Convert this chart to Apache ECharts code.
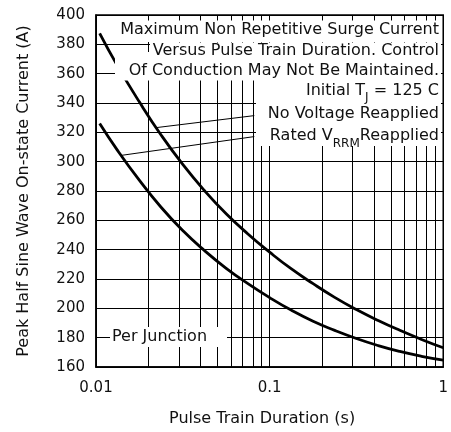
<!DOCTYPE html>
<html><head><meta charset="utf-8">
<script src="https://cdn.jsdelivr.net/npm/echarts@6/dist/echarts.min.js"></script>
<style>html,body{margin:0;padding:0;background:#fff}#c{width:451px;height:432px}</style>
</head><body><div id="c"></div>
<script>
// Data
const durNoVoltage = [0.0105, 0.0133, 0.0178, 0.0237, 0.0316, 0.0422, 0.0562, 0.075, 0.1, 0.133, 0.178, 0.237, 0.316, 0.422, 0.562, 0.75, 1.0];
const currNoVoltage = [387.5, 365.3, 340.6, 318.2, 298.1, 280.2, 264.5, 250.7, 238.3, 227.0, 216.8, 207.5, 199.2, 191.7, 185.0, 178.8, 173.1];
const durRated = [0.0105, 0.0133, 0.0178, 0.0237, 0.0316, 0.0422, 0.0562, 0.075, 0.1, 0.133, 0.178, 0.237, 0.316, 0.422, 0.562, 0.75, 1.0];
const currRated = [326, 307.7, 287.2, 268.9, 253.0, 239.3, 227.3, 216.8, 207.3, 198.8, 191.2, 185.0, 179.4, 174.6, 170.6, 167.3, 164.7];
const xMinorGrid = [0.02, 0.03, 0.04, 0.05, 0.06, 0.07, 0.08, 0.09, 0.2, 0.3, 0.4, 0.5, 0.6, 0.7, 0.8, 0.9];
const xTickLabels = {'0.01': '0.01', '0.1': '0.1', '1': '1'};
const leaderNoVoltage = [[0.0222, 323.2], [0.0816, 331.4]];
const leaderRated = [[0.0140, 304.3], [0.0816, 317.1]];
const yAxisTitle = 'Peak Half Sine Wave On-state Current (A)';
const xAxisTitle = 'Pulse Train Duration (s)';

const FONT = '"DejaVu Sans"';
const chart = echarts.init(document.getElementById('c'), null, {renderer: 'canvas'});

function txt(text, x, y, align, rich) {
  const style = {text: text, x: 0, y: 0, fill: '#111', font: '16px ' + FONT,
    fontSize: 16, fontFamily: FONT,
    align: align, textAlign: align, verticalAlign: 'middle', textVerticalAlign: 'middle'};
  if (rich) style.rich = rich;
  return {type: 'text', x: x, y: y, z: 60, silent: true, style: style};
}
function box(x, y, w, h) {
  return {type: 'rect', z: 55, silent: true, shape: {x: x, y: y, width: w, height: h}, style: {fill: '#fff'}};
}
const richSub = (lh) => ({
  n: {fontSize: 16, fontFamily: FONT, lineHeight: lh, verticalAlign: 'middle', color: '#111'},
  s: {fontSize: 12, fontFamily: FONT, verticalAlign: 'bottom', color: '#111'}
});

const option = {
  animation: false,
  grid: {left: 96, right: 4, top: 15, bottom: 64, show: true, borderColor: '#000', borderWidth: 1.5, backgroundColor: 'transparent'},
  xAxis: {
    type: 'log', logBase: 10, min: 0.01, max: 1,
    name: xAxisTitle, nameLocation: 'middle', nameGap: 44,
    nameTextStyle: {fontSize: 16, fontFamily: FONT, color: '#111', padding: [0, 15, 0, 0]},
    axisLine: {show: true, lineStyle: {color: '#000', width: 1.5}},
    axisTick: {show: false},
    axisLabel: {fontSize: 15, fontFamily: FONT, color: '#111', margin: 14,
      formatter: v => { const k = String(+(+v).toPrecision(3)); return xTickLabels[k] || k; }},
    splitLine: {show: true, lineStyle: {color: '#000', width: 1}}
  },
  yAxis: {
    type: 'value', min: 160, max: 400, interval: 20,
    name: yAxisTitle, nameLocation: 'middle', nameGap: 64, nameRotate: 90,
    nameTextStyle: {fontSize: 16, fontFamily: FONT, color: '#111'},
    axisLine: {show: true, lineStyle: {color: '#000', width: 1.5}},
    axisTick: {show: false},
    axisLabel: {fontSize: 15, fontFamily: FONT, color: '#111', margin: 11},
    splitLine: {show: true, lineStyle: {color: '#000', width: 1}}
  },
  series: [
    {
      name: 'No Voltage Reapplied', type: 'line', smooth: 0.5, symbol: 'none',
      data: durNoVoltage.map((d, i) => [d, currNoVoltage[i]]),
      lineStyle: {color: '#000', width: 2.8}, z: 5,
      markLine: {
        silent: true, symbol: ['none', 'none'], label: {show: false},
        lineStyle: {color: '#000', width: 1, type: 'solid'},
        data: xMinorGrid.map(v => ({xAxis: v}))
      }
    },
    {
      name: 'Rated VRRM Reapplied', type: 'line', smooth: 0.5, symbol: 'none',
      data: durRated.map((d, i) => [d, currRated[i]]),
      lineStyle: {color: '#000', width: 2.8}, z: 5,
      markLine: {
        silent: true, symbol: ['none', 'none'], label: {show: false},
        lineStyle: {color: '#000', width: 1, type: 'solid'},
        data: [
          [{coord: leaderNoVoltage[0]}, {coord: leaderNoVoltage[1]}],
          [{coord: leaderRated[0]}, {coord: leaderRated[1]}]
        ]
      }
    }
  ],
  graphic: [
    box(110, 20.5, 331, 21.5),
    box(150, 42.5, 291, 18),
    box(115, 52, 326, 28.5),
    box(256, 80, 185, 66),
    box(110, 327, 117, 20),
    txt('Maximum Non Repetitive Surge Current', 439, 30, 'right'),
    txt('Versus Pulse Train Duration. Control', 439, 51, 'right'),
    txt('Of Conduction May Not Be Maintained.', 439, 70.5, 'right'),
    txt('{n|Initial T}{s|J}{n| = 125 C}', 439, 90.5, 'right', richSub(26)),
    txt('No Voltage Reapplied', 439, 114, 'right'),
    txt('{n|Rated V}{s|RRM}{n|Reapplied}', 439, 136, 'right', richSub(28)),
    txt('Per Junction', 112, 336.7, 'left')
  ]
};
chart.setOption(option);
</script></body></html>
